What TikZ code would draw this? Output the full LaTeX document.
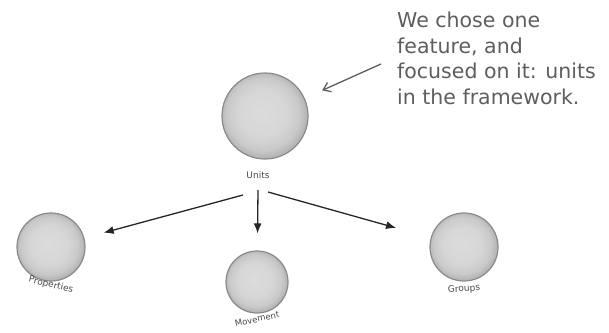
\documentclass[tikz,border=0pt]{standalone}
\usepackage{fontspec}
\setmainfont{DejaVu Sans}
\usetikzlibrary{arrows.meta}
\definecolor{ballrim}{HTML}{8A8A8A}
\definecolor{inkgray}{HTML}{4A4A4A}
\definecolor{notegray}{HTML}{5E5E5E}
\pgfdeclareradialshading{ballshade}{\pgfpoint{-2bp}{2bp}}{%
  color(0bp)=(gray!28); color(14bp)=(gray!32); color(21bp)=(gray!42); color(25bp)=(gray!58); color(50bp)=(gray!58)}
\tikzset{
  ball/.style={circle, draw=ballrim, line width=1.2pt, shading=ballshade, inner sep=0pt},
  balllabel/.style={font=\fontsize{9}{10}\selectfont, text=inkgray, inner sep=0pt},
  mainarrow/.style={-{Latex[length=10pt,width=8pt]}, line width=1.3pt, draw=black!85},
  notearrow/.style={-{Straight Barb[length=7pt,width=10pt]}, line width=1.3pt, draw=notegray},
  notetext/.style={font=\fontsize{20.5}{25.5}\selectfont, text=notegray, align=left, inner sep=0pt, anchor=north west}
}
\begin{document}
\begin{tikzpicture}[x=1pt,y=-1pt]
\useasboundingbox (0,0) rectangle (609,332);
\fill[white] (0,0) rectangle (609,332);
% balls
\node[ball, minimum size=86pt] (units) at (265,116) {};
\node[ball, minimum size=68pt] (prop) at (51,247) {};
\node[ball, minimum size=62pt] (move) at (257,282) {};
\node[ball, minimum size=68pt] (groups) at (464,247) {};
% labels
\node[balllabel] (ulabel) at (258,175) {Units};
\node[balllabel, rotate=-14] (plabel) at (51,285) {Properties};
\node[balllabel, rotate=12, font=\fontsize{8.5}{10}\selectfont] (mlabel) at (257,319) {Movement};
\node[balllabel, rotate=4] (glabel) at (464,289) {Groups};
% arrow starts
\coordinate (s1) at (243,195);
\coordinate (s2) at (258,190);
\coordinate (s3) at (268,192);
\draw[mainarrow, shorten >=20pt] (s1) -- (prop);
\draw[mainarrow, shorten >=17pt] (s2) -- (move);
\draw[mainarrow, shorten >=36pt] (s3) -- (groups);
% note
\node[notetext] (note) at (397,12) {We chose one\\feature, and\\focused on it: units\\in the framework.};
\coordinate (ns) at (381,64);
\draw[notearrow, shorten >=19pt] (ns) -- (units);
\end{tikzpicture}
\end{document}
